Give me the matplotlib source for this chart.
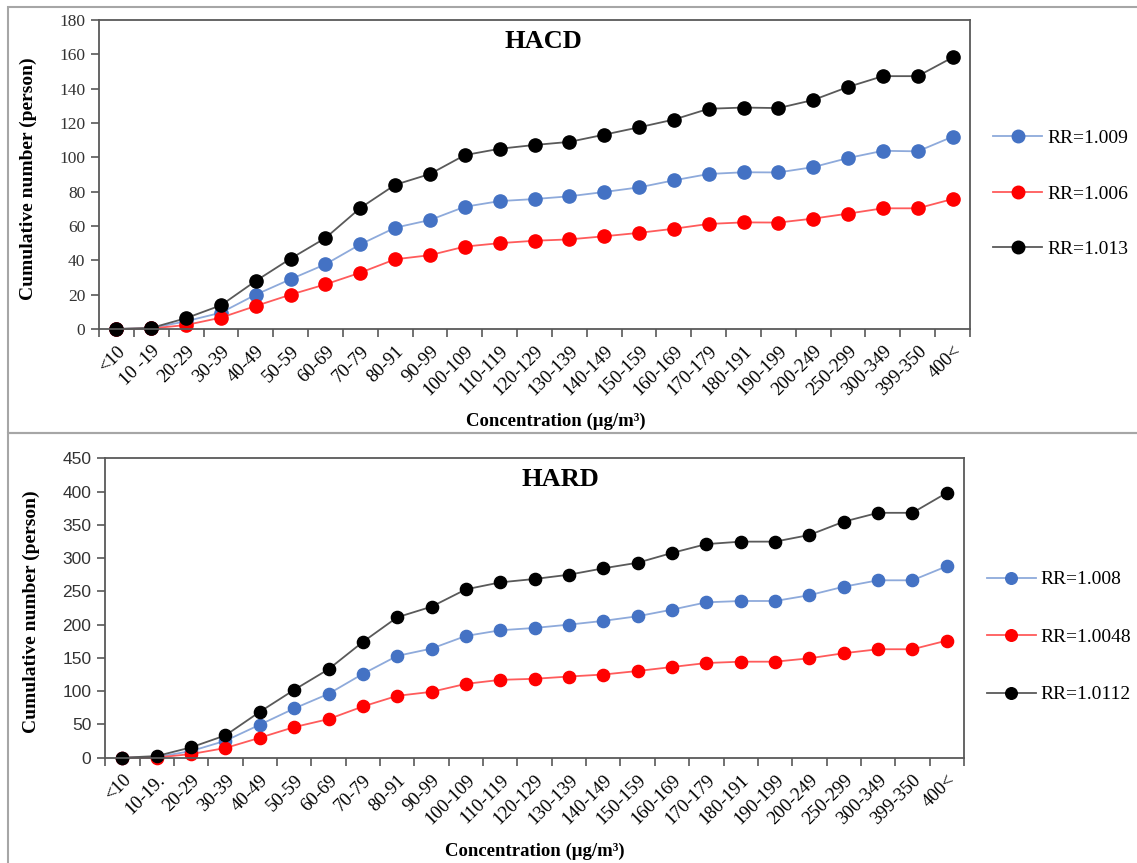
import numpy as np
import matplotlib.pyplot as plt
from matplotlib import rcParams
from matplotlib.patches import Rectangle

rcParams['font.family'] = ['Liberation Serif', 'DejaVu Serif']
rcParams['font.size'] = 12

cats_top = ['<10', '10 -19', '20-29', '30-39', '40-49', '50-59', '60-69', '70-79', '80-91',
            '90-99', '100-109', '110-119', '120-129', '130-139', '140-149', '150-159',
            '160-169', '170-179', '180-191', '190-199', '200-249', '250-299', '300-349',
            '399-350', '400<']
cats_bot = ['<10', '10-19.'] + cats_top[2:]

# HACD
hacd_rr1009 = [0, 0.5, 4.5, 9.5, 20, 29, 37.7, 49.3, 59, 63.5, 71.2, 74.5, 75.7, 77.3, 79.8,
               82.5, 86.6, 90.3, 91.3, 91.2, 94.3, 99.6, 103.8, 103.5, 112]
hacd_rr1006 = [0, 0.3, 2.3, 6.6, 13.4, 20, 26, 32.8, 40.6, 43, 48, 50, 51.4, 52.2, 54,
               56, 58.4, 61.2, 62.1, 62, 64.3, 67.2, 70.3, 70.3, 75.7]
hacd_rr1013 = [0, 0.6, 6.3, 13.8, 28, 41, 53, 70.5, 84, 90.3, 101.3, 105, 107.2, 109, 113.2,
               117.5, 122, 128.3, 129, 128.7, 133.4, 141, 147.3, 147.3, 158.2]

# HARD
hard_rr1008 = [0, 1, 10, 25.5, 49.6, 74, 96, 126, 153, 164, 183, 191.5, 195, 200, 205.6,
               212.6, 222.5, 233.5, 235.5, 235.5, 244.2, 257, 266.6, 266.6, 287.7]
hard_rr10048 = [0, 0.3, 5.5, 14.6, 30, 46, 58, 77, 93, 99, 111, 117, 118.6, 122, 125,
                130.3, 136.3, 142.3, 144.3, 144.3, 149.4, 157, 163, 163, 176]
hard_rr10112 = [0, 2.5, 15.6, 33.6, 69, 102, 133, 174, 211, 227, 253, 263.5, 268.6, 275, 284.6,
                293, 307.7, 321, 324.7, 324.7, 334.7, 354.7, 368, 368, 398]

BLUE_M, BLUE_L = '#4472C4', '#8EAADB'
RED_M, RED_L = '#FF0000', '#FF5B5B'
BLK_M, BLK_L = '#000000', '#595959'
SPINE = '#595959'

fig = plt.figure(figsize=(11.37, 8.63), dpi=100)

# panel frames
fig.patches.append(Rectangle((8/1137, (863-433)/863), 1.2, 426/863, transform=fig.transFigure,
                             fill=False, edgecolor='#a6a6a6', linewidth=1.5, figure=fig))
fig.patches.append(Rectangle((8/1137, -0.1), 1.2, (863-433)/863 + 0.1, transform=fig.transFigure,
                             fill=False, edgecolor='#a6a6a6', linewidth=1.5, figure=fig))


def panel(rect, cats, series, ymax, ystep, title, title_x, ytick_font, msize, legend_pos, lspace):
    ax = fig.add_axes(rect)
    x = np.arange(len(cats))
    for vals, mc, lc, lab in series:
        ax.plot(x, vals, color=lc, linewidth=1.3, marker='o', markersize=msize,
                markerfacecolor=mc, markeredgecolor=mc, label=lab, clip_on=False)
    ax.set_xlim(-0.5, len(cats) - 0.5)
    ax.set_ylim(0, ymax)
    ax.set_xticks(np.arange(len(cats) + 1) - 0.5)
    ax.set_xticklabels([])
    ax.set_xticks(x, minor=True)
    ax.set_xticklabels(cats, minor=True, rotation=45, ha='right', va='top',
                       rotation_mode='anchor', fontsize=13.5)
    ax.tick_params(axis='x', which='minor', length=0, pad=10)
    ax.tick_params(axis='x', which='major', direction='out', length=6, color=SPINE, width=1.2)
    ax.set_yticks(np.arange(0, ymax + 1, ystep))
    ax.tick_params(axis='y', direction='out', length=6, color=SPINE, width=1.2, pad=4)
    for t in ax.get_yticklabels():
        t.set_family(ytick_font)
        t.set_fontsize(12.5)
        t.set_color('#333333')
    for s in ax.spines.values():
        s.set_color(SPINE)
        s.set_linewidth(1.3)
    ax.text(title_x, 0.93, title, transform=ax.transAxes, ha='center', va='center',
            fontsize=19, fontweight='bold')
    ax.set_xlabel('Concentration (μg/m³)', fontsize=13.5, fontweight='bold', labelpad=10)
    ax.set_ylabel('Cumulative number (person)', fontsize=14, fontweight='bold', labelpad=16)
    ax.legend(loc='center left', bbox_to_anchor=legend_pos, frameon=False, fontsize=14,
              labelspacing=lspace, handlelength=2.5, handletextpad=0.25, markerscale=0.95,
              borderaxespad=0, borderpad=0)
    return ax


ax1 = panel([0.0871, 0.6188, 0.766, 0.358], cats_top,
            [(hacd_rr1009, BLUE_M, BLUE_L, 'RR=1.009'),
             (hacd_rr1006, RED_M, RED_L, 'RR=1.006'),
             (hacd_rr1013, BLK_M, BLK_L, 'RR=1.013')],
            180, 20, 'HACD', 0.51, ['Liberation Serif'], 9.5, (1.027, 0.437), 1.95)
ax1.xaxis.label.set_position((0.525, 0))
ax1.yaxis.label.set_position((0, 0.485))

ax2 = panel([0.0926, 0.122, 0.7552, 0.347], cats_bot,
            [(hard_rr1008, BLUE_M, BLUE_L, 'RR=1.008'),
             (hard_rr10048, RED_M, RED_L, 'RR=1.0048'),
             (hard_rr10112, BLK_M, BLK_L, 'RR=1.0112')],
            450, 50, 'HARD', 0.53, ['Liberation Sans'], 8.8, (1.027, 0.403), 2.05)
ax2.xaxis.labelpad = 11
ax2.yaxis.label.set_position((0, 0.487))

plt.savefig('out.png', dpi=100)
